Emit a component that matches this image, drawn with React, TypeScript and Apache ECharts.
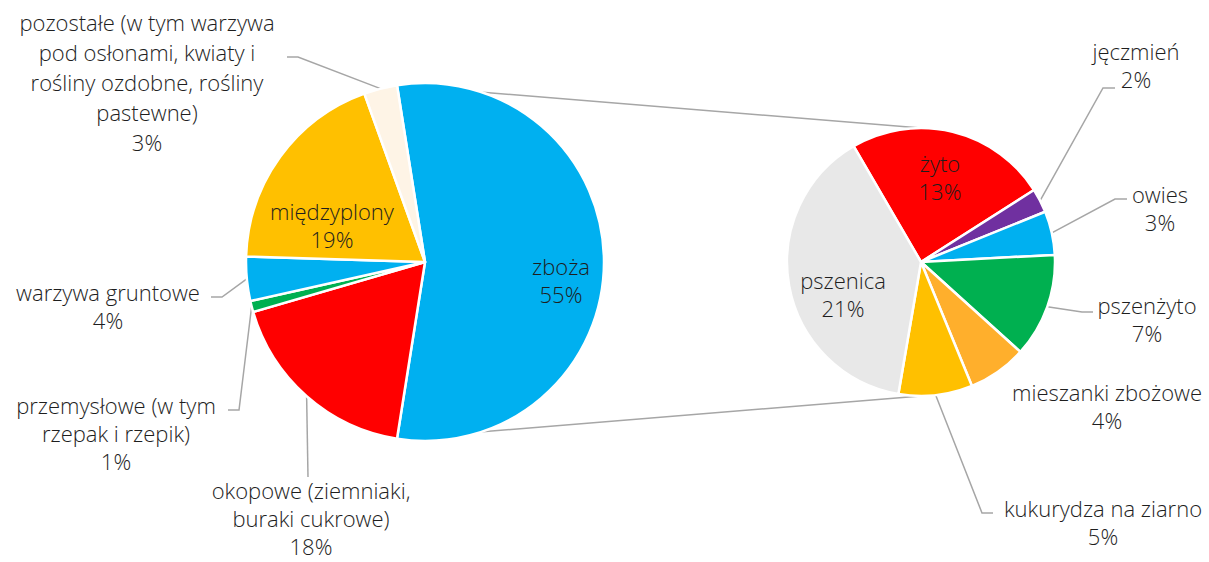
import React, { useEffect, useRef } from "react";
import * as echarts from "echarts";

// ---- data (percent of total sown area) ----
const mainCategories = [
  "zboża",
  "okopowe (ziemniaki,\nburaki cukrowe)",
  "przemysłowe (w tym\nrzepak i rzepik)",
  "warzywa gruntowe",
  "międzyplony",
  "pozostałe (w tym warzywa\npod osłonami, kwiaty i\nrośliny ozdobne, rośliny\npastewne)",
];
const mainValues = [55.0, 18.0, 1.0, 4.0, 19.0, 3.0];
const mainColors = ["#00B0F0", "#FF0000", "#00B050", "#00B0F0", "#FFC000", "#FEF4E6"];

const cerealCategories = [
  "żyto",
  "jęczmień",
  "owies",
  "pszenżyto",
  "mieszanki zbożowe",
  "kukurydza na ziarno",
  "pszenica",
];
const cerealValues = [13.4, 1.6, 2.9, 6.9, 3.9, 4.9, 21.4];
const cerealColors = ["#FF0000", "#7030A0", "#00B0F0", "#00B050", "#FFAF2C", "#FFC000", "#E8E8E8"];

// ---- layout ----
const MAIN_CENTER = [425, 262];
const MAIN_R = 179;
const SUB_CENTER = [921, 262];
const SUB_R = 134;
const SUB_START = 120.2;

type LabelPos = { x: number; y: number; line?: number[][]; inside?: boolean; lh?: number; noLine?: boolean };

const mainLabelPos: LabelPos[] = [
  { x: 561, y: 280, inside: true },
  { x: 311, y: 518, line: [[308, 477], [308, 477]] },
  { x: 116, y: 433, line: [[239, 410], [228, 410]] },
  { x: 108, y: 306, line: [[222, 297], [211, 297]] },
  { x: 332, y: 225, inside: true },
  { x: 147, y: 82, line: [[298, 57], [287, 57]], lh: 30 },
];
const subLabelPos: LabelPos[] = [
  { x: 940, y: 177, inside: true },
  { x: 1136, y: 65, line: [[1103, 88], [1115, 88]] },
  { x: 1160, y: 208, line: [[1115, 199], [1127, 199]] },
  { x: 1147, y: 319, line: [[1082, 312], [1093, 312]] },
  { x: 1107, y: 406, noLine: true },
  { x: 1103, y: 522, line: [[982, 513], [993, 513]] },
  { x: 843, y: 294, inside: true },
];

const FONT = "'Open Sans', Roboto, sans-serif";
const TEXT_COLOR = "#1e1e1e";
const LINE_COLOR = "#A6A6A6";

function buildData(cats: string[], vals: number[], colors: string[], pos: LabelPos[]) {
  return cats.map((name, i) => ({
    name,
    value: vals[i],
    itemStyle: { color: colors[i] },
    label: {
      position: pos[i].inside ? "inside" : "outside",
      lineHeight: pos[i].lh ?? 28,
    },
    labelLine: { show: !pos[i].inside && !pos[i].noLine },
  }));
}

function makeLayout(pos: LabelPos[]) {
  return (params: any) => {
    const p = pos[params.dataIndex];
    const out: any = { x: p.x, y: p.y, align: "center", verticalAlign: "middle" };
    if (p.line && params.labelLinePoints) {
      out.labelLinePoints = [params.labelLinePoints[0], p.line[0], p.line[1]];
    }
    return out;
  };
}

export default function App() {
  const ref = useRef<HTMLDivElement>(null);
  useEffect(() => {
    document.body.style.margin = "0";
    const chart = echarts.init(ref.current!, null, { renderer: "svg" });

    const mainTotal = mainValues.reduce((a, b) => a + b, 0);
    const splitDeg = (mainValues[0] / mainTotal) * 360;
    const half = (splitDeg / 2) * (Math.PI / 180);
    const topL = [MAIN_CENTER[0] + MAIN_R * Math.cos(half), MAIN_CENTER[1] - MAIN_R * Math.sin(half)];
    const botL = [MAIN_CENTER[0] + MAIN_R * Math.cos(half), MAIN_CENTER[1] + MAIN_R * Math.sin(half)];

    const labelCommon = {
      show: true,
      fontFamily: FONT,
      fontWeight: 300,
      fontSize: 22,
      color: TEXT_COLOR,
      formatter: (p: any) => `${p.name}\n${Math.round(p.value)}%`,
    };

    chart.setOption({
      animation: false,
      backgroundColor: "#ffffff",
      graphic: [
        {
          type: "line",
          z: 0,
          shape: { x1: topL[0], y1: topL[1], x2: SUB_CENTER[0], y2: SUB_CENTER[1] - SUB_R },
          style: { stroke: LINE_COLOR, lineWidth: 1.5 },
        },
        {
          type: "line",
          z: 0,
          shape: { x1: botL[0], y1: botL[1], x2: SUB_CENTER[0], y2: SUB_CENTER[1] + SUB_R },
          style: { stroke: LINE_COLOR, lineWidth: 1.5 },
        },
      ],
      series: [
        {
          type: "pie",
          center: MAIN_CENTER,
          radius: MAIN_R,
          startAngle: splitDeg / 2,
          clockwise: true,
          avoidLabelOverlap: false,
          itemStyle: { borderColor: "#ffffff", borderWidth: 2.5 },
          label: labelCommon,
          labelLine: { lineStyle: { color: LINE_COLOR, width: 1.5 }, length: 10, length2: 10 },
          labelLayout: makeLayout(mainLabelPos),
          emphasis: { disabled: true },
          data: buildData(mainCategories, mainValues, mainColors, mainLabelPos),
        },
        {
          type: "pie",
          center: SUB_CENTER,
          radius: SUB_R,
          startAngle: SUB_START,
          clockwise: true,
          avoidLabelOverlap: false,
          itemStyle: { borderColor: "#ffffff", borderWidth: 2.5 },
          label: labelCommon,
          labelLine: { lineStyle: { color: LINE_COLOR, width: 1.5 }, length: 10, length2: 10 },
          labelLayout: makeLayout(subLabelPos),
          emphasis: { disabled: true },
          data: buildData(cerealCategories, cerealValues, cerealColors, subLabelPos),
        },
      ],
    });
    return () => chart.dispose();
  }, []);
  return <div ref={ref} style={{ width: 1209, height: 562 }} />;
}
